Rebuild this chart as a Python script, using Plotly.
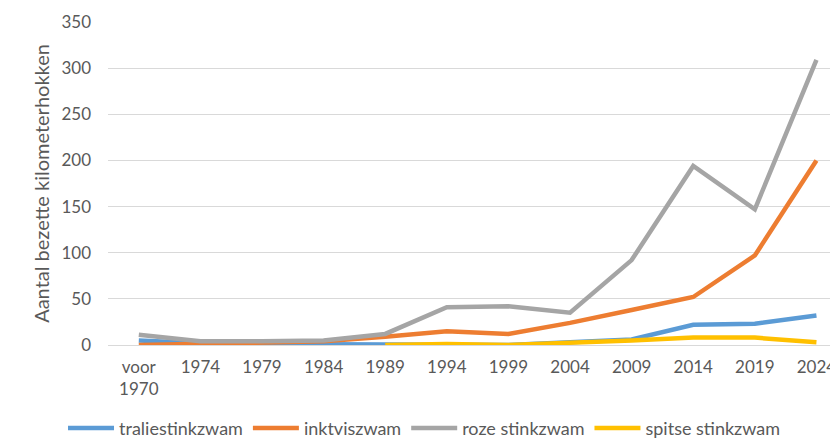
import plotly.graph_objects as go

categories = ["voor<br>1970", "1974", "1979", "1984", "1989", "1994", "1999",
              "2004", "2009", "2014", "2019", "2024"]

traliestinkzwam = [5, 2, 1, 1, 1, 1, 0, 3, 6, 22, 23, 32]
inktviszwam = [0, 1, 2, 4, 9, 15, 12, 24, 38, 52, 97, 200]
roze_stinkzwam = [11, 4, 4, 5, 12, 41, 42, 35, 92, 194, 147, 309]
spitse_stinkzwam = [None, None, None, None, 0, 1, 0, 2, 5, 8, 8, 3]

series = [
    ("traliestinkzwam", traliestinkzwam, "#5B9BD5"),
    ("inktviszwam", inktviszwam, "#ED7D31"),
    ("roze stinkzwam", roze_stinkzwam, "#A5A5A5"),
    ("spitse stinkzwam", spitse_stinkzwam, "#FFC000"),
]

font_family = "Lato, Carlito, Calibri, sans-serif"
txt_color = "#595959"

fig = go.Figure()
for name, vals, color in series:
    fig.add_trace(go.Scatter(
        x=list(range(len(categories))), y=vals, name=name, mode="lines",
        line=dict(color=color, width=4.5, shape="linear"),
        connectgaps=False, cliponaxis=False,
    ))

fig.update_layout(
    width=830, height=440,
    margin=dict(l=108, r=0, t=22, b=95, autoexpand=False),
    paper_bgcolor="white", plot_bgcolor="white",
    font=dict(family=font_family, size=17, color=txt_color),
    showlegend=True,
    legend=dict(
        orientation="h", xref="paper", yref="paper",
        x=-0.0623, y=-0.258, xanchor="left", yanchor="middle",
        font=dict(size=18, color=txt_color),
        itemwidth=46, tracegroupgap=0,
    ),
)

fig.update_xaxes(
    tickmode="array", tickvals=list(range(len(categories))), ticktext=categories,
    range=[-0.5, 11.22], showgrid=False, zeroline=False, showline=False,
    ticks="", ticklabeloverflow="allow", ticklabelstandoff=10,
    tickfont=dict(size=17, color=txt_color),
)
fig.update_yaxes(
    range=[0, 350], dtick=50, showgrid=True, gridcolor="#D9D9D9", gridwidth=1,
    zeroline=True, zerolinecolor="#D9D9D9", zerolinewidth=1, showline=False,
    ticks="", ticklabelstandoff=16,
    title=dict(text="Aantal bezette kilometerhokken", standoff=6,
               font=dict(size=20, color=txt_color)),
    tickfont=dict(size=17, color=txt_color),
)

fig.write_html(
    "out.html",
    config={"displayModeBar": False},
    post_script="document.body.style.margin='0';document.body.style.overflow='hidden';",
)
